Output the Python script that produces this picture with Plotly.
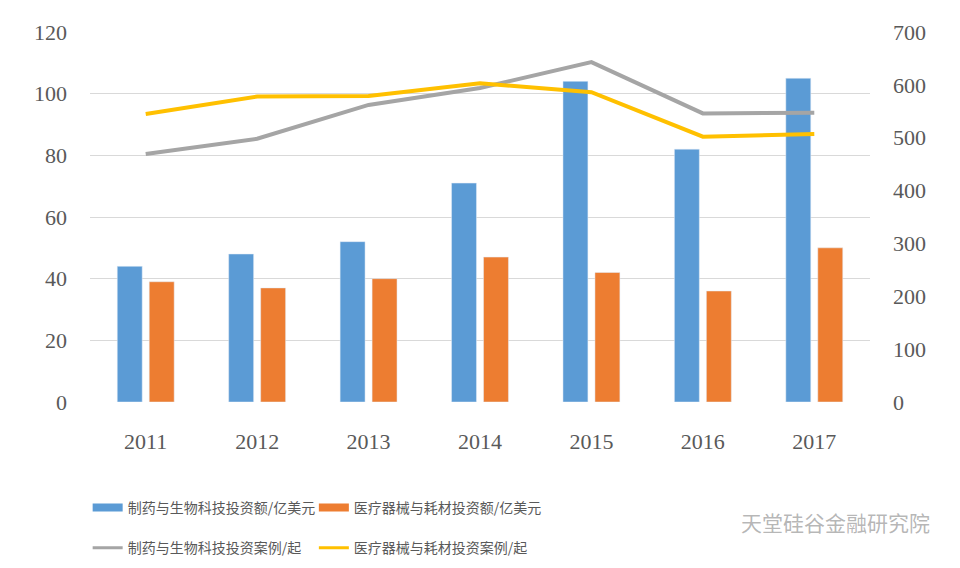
import plotly.graph_objects as go

years = ["2011", "2012", "2013", "2014", "2015", "2016", "2017"]
# left axis, 亿美元
pharma_amt = [44, 48, 52, 71, 104, 82, 105]
device_amt = [39, 37, 40, 47, 42, 36, 50]
# right axis, 起
pharma_cases = [469, 498, 562, 594, 643, 546, 547]
device_cases = [545, 578, 579, 603, 586, 502, 507]

names = ["制药与生物科技投资额/亿美元", "医疗器械与耗材投资额/亿美元",
         "制药与生物科技投资案例/起", "医疗器械与耗材投资案例/起"]
colors = ["#5b9bd5", "#ed7d31", "#a5a5a5", "#ffc000"]

fig = go.Figure()
fig.add_trace(go.Bar(x=years, y=pharma_amt, marker_color=colors[0], showlegend=False))
fig.add_trace(go.Bar(x=years, y=device_amt, marker_color=colors[1], showlegend=False))
fig.add_trace(go.Scatter(x=years, y=pharma_cases, mode="lines", yaxis="y2",
                         line=dict(color=colors[2], width=4), showlegend=False))
fig.add_trace(go.Scatter(x=years, y=device_cases, mode="lines", yaxis="y2",
                         line=dict(color=colors[3], width=4), showlegend=False))

# one legend per entry so each sits where the reference puts it
leg_keys = ["legend", "legend2", "legend3", "legend4"]
leg_pos = [(-0.003, -0.286), (0.287, -0.286), (-0.003, -0.395), (0.287, -0.395)]
for i, nm in enumerate(names):
    fig.add_trace(go.Scatter(x=[None], y=[None], mode="lines", name=nm,
                             line=dict(color=colors[i], width=8 if i < 2 else 3),
                             legend=leg_keys[i]))

tick_font = dict(family="Liberation Serif", size=22, color="#595959")
leg_font = dict(family="Noto Sans CJK SC", size=14, color="#595959")

layout_legends = {}
for key, (lx, ly) in zip(leg_keys, leg_pos):
    layout_legends[key] = dict(x=lx, y=ly, xanchor="left", yanchor="middle",
                               orientation="h", itemwidth=30, font=leg_font,
                               bgcolor="rgba(0,0,0,0)")

# page body adds an 8px offset, so margins are shifted up/left by 8
fig.update_layout(
    width=960, height=568,
    margin=dict(l=82, r=98, t=24, b=174, autoexpand=False),
    paper_bgcolor="white", plot_bgcolor="white",
    barmode="group", bargap=0.426, bargroupgap=0.22,
    xaxis=dict(tickfont=tick_font, showgrid=False, showline=False, ticks="",
               ticklabelstandoff=24, automargin=False),
    yaxis=dict(range=[0, 120], dtick=20, tickfont=tick_font, showgrid=True,
               gridcolor="#d9d9d9", gridwidth=1, zeroline=False, showline=False,
               ticklabelstandoff=22, automargin=False),
    yaxis2=dict(range=[0, 700], dtick=100, overlaying="y", side="right",
                tickfont=tick_font, showgrid=False, zeroline=False, showline=False,
                ticklabelstandoff=22, automargin=False),
    showlegend=True,
    **layout_legends,
)

fig.add_annotation(text="天堂硅谷金融研究院", xref="paper", yref="paper",
                   x=1.08, y=-0.325, xanchor="right", yanchor="middle", showarrow=False,
                   font=dict(family="Noto Sans CJK SC", size=21, color="rgba(120,120,120,0.55)"))

fig.write_html("out.html")
